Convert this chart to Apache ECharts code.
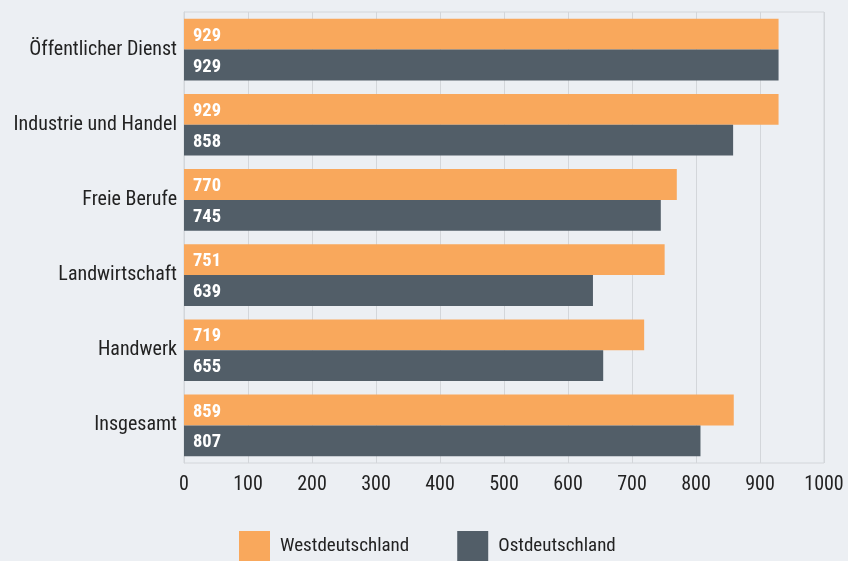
<!DOCTYPE html>
<html><head><meta charset="utf-8">
<script src="https://cdn.jsdelivr.net/npm/echarts@6/dist/echarts.min.js"></script>
<style>html,body{margin:0;padding:0;background:#eceff3}#c{width:848px;height:561px}</style>
</head><body><div id="c"></div>
<script>
const categories = ['Öffentlicher Dienst','Industrie und Handel','Freie Berufe','Landwirtschaft','Handwerk','Insgesamt'];
const west = [929, 929, 770, 751, 719, 859];
const ost = [929, 858, 745, 639, 655, 807];
const seriesNames = ['Westdeutschland','Ostdeutschland'];
const xTicks = [0,100,200,300,400,500,600,700,800,900,1000];

const font = '"Roboto Condensed", sans-serif';
const chart = echarts.init(document.getElementById('c'));
const lbl = {show:true, position:'insideLeft', distance:9, offset:[0,2], color:'#fff', fontWeight:'bold', fontSize:18.5, fontFamily:font};
chart.setOption({
  backgroundColor:'#eceff3',
  animation:false,
  grid:{left:184, right:24, top:12, bottom:98, show:true, borderColor:'#d3d6da', borderWidth:1, backgroundColor:'transparent', outerBoundsMode:'none', containLabel:false},
  legend:{top:526, left:234, itemWidth:31, itemHeight:30, itemGap:48, icon:'rect',
    textStyle:{fontSize:19, fontFamily:font, color:'#222', padding:[2,0,0,5]}, data:seriesNames},
  xAxis:{type:'value', min:xTicks[0], max:xTicks[xTicks.length-1], interval:100,
    axisLine:{show:false}, axisTick:{show:false},
    splitLine:{show:true, lineStyle:{color:'#d3d6da', width:1}},
    axisLabel:{fontSize:20, fontFamily:font, color:'#222', margin:12, formatter:v=>String(v)}},
  yAxis:{type:'category', inverse:true, data:categories,
    axisLine:{show:true, lineStyle:{color:'#d3d6da'}}, axisTick:{show:false},
    axisLabel:{fontSize:20, fontFamily:font, color:'#222', margin:7, padding:[4,0,0,0]}},
  series:[
    {name:seriesNames[0], type:'bar', data:west, itemStyle:{color:'#f9a85c'}, barGap:'0%', barCategoryGap:'18%', label:lbl},
    {name:seriesNames[1], type:'bar', data:ost, itemStyle:{color:'#525e68'}, barGap:'0%', barCategoryGap:'18%', label:lbl}
  ]
});
</script></body></html>
